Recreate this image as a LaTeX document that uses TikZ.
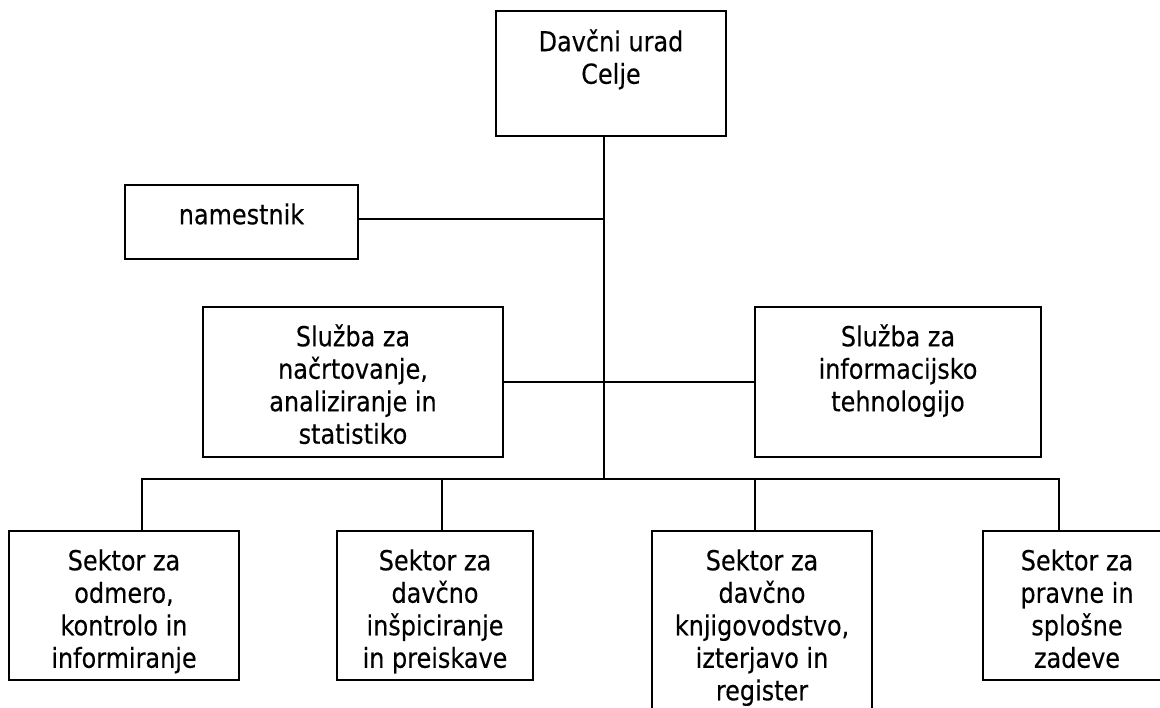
\documentclass[tikz,border=0pt]{standalone}
\usepackage{fontspec}
\setmainfont{DejaVu Sans}[FakeStretch=0.87,FakeBold=0.3]
\begin{document}
\begin{tikzpicture}[x=1pt,y=-1pt,
  box/.style={draw=black,line width=1.9pt,inner sep=0pt,fill=none},
  lbl/.style={anchor=north,inner sep=0pt,align=center,font=\fontsize{27.5}{32.5}\selectfont},
  conn/.style={draw=black,line width=1.9pt}]
\useasboundingbox (0,0) rectangle (1160,708);
\clip (0,0) rectangle (1160,708);
\fill[white] (0,0) rectangle (1160,708);
% boxes
\node[box,minimum width=230pt,minimum height=125pt] (top) at (611,73.5) {};
\node[box,minimum width=233pt,minimum height=74pt] (nam) at (241.5,222) {};
\node[box,minimum width=300pt,minimum height=150pt] (sl) at (353,382) {};
\node[box,minimum width=286pt,minimum height=150pt] (sr) at (898,382) {};
\node[box,minimum width=230pt,minimum height=149pt] (s1) at (124,605.5) {};
\node[box,minimum width=196pt,minimum height=149pt] (s2) at (435,605.5) {};
\node[box,minimum width=220pt,minimum height=189pt] (s3) at (762,625.5) {};
\node[box,minimum width=188pt,minimum height=149pt] (s4) at (1077,605.5) {};
% texts
\node[lbl] (ttop) at ([yshift=-18pt]top.north) {\rule{0pt}{23pt}Davčni urad\\Celje};
\node[lbl] (tnam) at ([yshift=-17pt]nam.north) {\rule{0pt}{23pt}namestnik};
\node[lbl] (tsl) at ([yshift=-17pt]sl.north) {\rule{0pt}{23pt}Služba za\\načrtovanje,\\analiziranje in\\statistiko};
\node[lbl] (tsr) at ([yshift=-17pt]sr.north) {\rule{0pt}{23pt}Služba za\\informacijsko\\tehnologijo};
\node[lbl] (ts1) at ([yshift=-17pt]s1.north) {\rule{0pt}{23pt}Sektor za\\odmero,\\kontrolo in\\informiranje};
\node[lbl] (ts2) at ([yshift=-17pt]s2.north) {\rule{0pt}{23pt}Sektor za\\davčno\\inšpiciranje\\in preiskave};
\node[lbl] (ts3) at ([yshift=-17pt]s3.north) {\rule{0pt}{23pt}Sektor za\\davčno\\knjigovodstvo,\\izterjavo in\\register};
\node[lbl] (ts4) at ([yshift=-17pt]s4.north) {\rule{0pt}{23pt}Sektor za\\pravne in\\splošne\\zadeve};
% connector points
\coordinate (bus) at (604,479);
\coordinate (d1) at (142,479);
\coordinate (d2) at (442,479);
\coordinate (d3) at (755,479);
\coordinate (d4) at (1059,479);
% connectors
\draw[conn] (top.south -| bus) -- (bus);
\draw[conn] ([yshift=3pt]nam.east) -- ([yshift=3pt]nam.east -| bus);
\draw[conn] (sl.east) -- (sr.west);
\draw[conn] (s1.north -| d1) -- (d1) -- (d4) -- (s4.north -| d4);
\draw[conn] (d2) -- (s2.north -| d2);
\draw[conn] (d3) -- (s3.north -| d3);
\end{tikzpicture}
\end{document}
